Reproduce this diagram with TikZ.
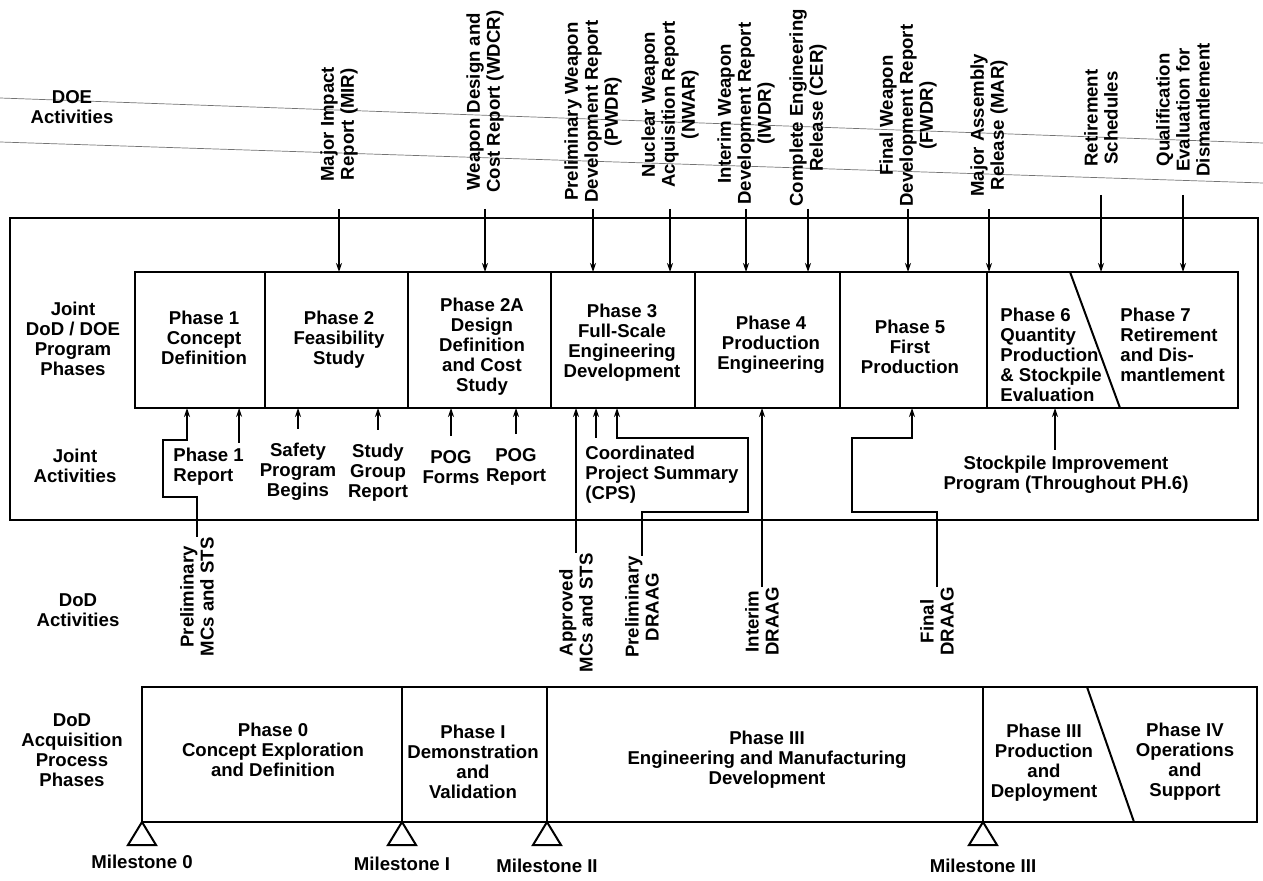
\documentclass[tikz,border=0pt]{standalone}
\usepackage{fontspec}
\setmainfont{Liberation Sans}
\usetikzlibrary{arrows.meta, positioning, calc}

\begin{document}
\begin{tikzpicture}[
    x=0.5pt, y=-0.5pt,
    lbl/.style={font=\fontsize{9.3}{10}\selectfont\bfseries, align=center, inner sep=0pt},
    uplbl/.style={lbl, rotate=90, anchor=west},
    dnlbl/.style={lbl, rotate=90, anchor=east},
    boxline/.style={draw, line width=1.2pt},
    divider/.style={line width=1pt},
    ptr/.style={-{Stealth[length=4.5pt, width=3pt]}, line width=0.8pt},
    mtri/.style={draw, line width=1pt, fill=white},
    crease/.style={line width=0.35pt, black!55},
    >=Stealth
  ]
  \useasboundingbox (0,0) rectangle (1263,881);

  % --- scan creases across the DOE row ---
  \draw[crease] (0,98) -- (1263,143);
  \draw[crease] (0,142) -- (1263,183);

  % --- row labels ---
  \node[lbl] (doeact) at (72,107) {DOE\\Activities};
  \node[lbl] (jointph) at (73,339) {Joint\\DoD / DOE\\Program\\Phases};
  \node[lbl] (jointact) at (75,466) {Joint\\Activities};
  \node[lbl] (dodact) at (78,610) {DoD\\Activities};
  \node[lbl] (dodacq) at (72,750) {DoD\\Acquisition\\Process\\Phases};

  % --- joint frame and program phases ---
  \draw[boxline] (10,218) rectangle (1258,520);
  \draw[boxline] (135,272) rectangle (1238,408);
  \coordinate (phtop) at (0,272);
  \coordinate (phbot) at (0,408);
  \coordinate (tick) at (0,209);
  \coordinate (tickhi) at (0,195);
  \foreach \dx in {265,408,551,695,840,987}
    \draw[divider] (\dx,272) -- (\dx,408);
  \draw[divider] (1070,272) -- (1120,408);

  \node[lbl] (ph1) at (204,338) {Phase 1\\Concept\\Definition};
  \node[lbl] (ph2) at (339,340) {Phase 2\\Feasibility\\Study};
  \node[lbl] (ph2a) at (482,347) {Phase 2A\\Design\\Definition\\and Cost\\Study};
  \node[lbl] (ph3) at (622,343) {Phase 3\\Full-Scale\\Engineering\\Development};
  \node[lbl] (ph4) at (771,345) {Phase 4\\Production\\Engineering};
  \node[lbl] (ph5) at (910,347) {Phase 5\\First\\Production};
  \node[lbl, anchor=west, align=left] (ph6) at (1000,355) {Phase 6\\Quantity\\Production\\\& Stockpile\\Evaluation};
  \node[lbl, anchor=west, align=left] (ph7) at (1120,345) {Phase 7\\Retirement\\and Dis-\\mantlement};

  % --- DOE activities ---
  \node[uplbl] (mir) at (339,182) {Major Impact\\Report (MIR)};
  \node[uplbl] (wdcr) at (485,193) {Weapon Design and\\Cost Report (WDCR)};
  \node[uplbl] (pwdr) at (593,203) {Preliminary Weapon\\Development Report\\(PWDR)};
  \node[uplbl] (nwar) at (670,188) {Nuclear Weapon\\Acquisition Report\\(NWAR)};
  \node[uplbl] (iwdr) at (746,205) {Interim Weapon\\Development Report\\(IWDR)};
  \node[uplbl] (cer) at (808,207) {Complete Engineering\\Release (CER)};
  \node[uplbl] (fwdr) at (908,207) {Final Weapon\\Development Report\\(FWDR)};
  \node[uplbl] (mar) at (989,197) {Major Assembly\\Release (MAR)};
  \node[uplbl] (rsch) at (1101,167) {Retirement\\Schedules};
  \node[uplbl] (qed) at (1183,177) {Qualification\\Evaluation for\\Dismantlement};
  \foreach \n in {mir,wdcr,pwdr,nwar,iwdr,cer,fwdr,mar}
    \draw[ptr] (\n.west |- tick) -- (\n.west |- phtop);
  \draw[ptr] (rsch.west |- tickhi) -- (rsch.west |- phtop);
  \draw[ptr] (qed.west |- tickhi) -- (qed.west |- phtop);

  % --- joint activities ---
  \node[lbl, anchor=west, align=left] (p1rep) at (173,467) {Phase 1\\Report};
  \node[lbl] (safety) at (298,472) {Safety\\Program\\Begins};
  \node[lbl] (sgrep) at (378,473) {Study\\Group\\Report};
  \node[lbl] (pogf) at (451,467) {POG\\Forms};
  \node[lbl] (pogr) at (516,467) {POG\\Report};
  \node[lbl, anchor=west, align=left] (cps) at (585,475) {Coordinated\\Project Summary\\(CPS)};
  \node[lbl] (sip) at (1066,475) {Stockpile Improvement\\Program (Throughout PH.6)};
  \foreach \n in {safety,sgrep,pogf,pogr}
    \draw[ptr] ([yshift=7pt]\n.north) -- (\n.north |- phbot);
  \draw[ptr] ($(p1rep.north east)+(-5,-5)$) coordinate (p1a) -- (p1a |- phbot);
  \draw[ptr] ($(cps.north west)+(11,-8)$) coordinate (cpsa) -- (cpsa |- phbot);
  \draw[ptr] ($(sip.north)+(-11,-6)$) coordinate (sipa) -- (sipa |- phbot);

  % --- DoD activities ---
  \node[dnlbl] (pmc) at (197,537) {Preliminary\\MCs and STS};
  \node[dnlbl] (amc) at (576,553) {Approved\\MCs and STS};
  \node[dnlbl] (pdraag) at (642,556) {Preliminary\\DRAAG};
  \node[dnlbl] (idraag) at (762,587) {Interim\\DRAAG};
  \node[dnlbl] (fdraag) at (937,587) {Final\\DRAAG};
  \draw[ptr] (pmc.east) |- (163,497) |- (187,440) -- (187,440 |- phbot);
  \draw[ptr] (amc.east) -- (amc.east |- phbot);
  \draw[ptr] (pdraag.east) |- (748,512) |- (617,438) -- (617,438 |- phbot);
  \draw[ptr] (idraag.east) -- (idraag.east |- phbot);
  \draw[ptr] (fdraag.east) |- (852,512) |- (912,438) -- (912,438 |- phbot);

  % --- DoD acquisition process phases ---
  \draw[boxline] (142,687) rectangle (1257,822);
  \foreach \dx in {402,547,983}
    \draw[divider] (\dx,687) -- (\dx,822);
  \draw[divider] (1087,687) -- (1134,822);
  \node[lbl] (aq0) at (273,750) {Phase 0\\Concept Exploration\\and Definition};
  \node[lbl] (aq1) at (473,762) {Phase I\\Demonstration\\and\\Validation};
  \node[lbl] (aq3) at (767,760) {Phase III\\Engineering and Manufacturing\\Development};
  \node[lbl] (aq3b) at (1044,763) {Phase III\\Production\\and\\Deployment};
  \node[lbl] (aq4) at (1185,762) {Phase IV\\Operations\\and\\Support};

  % --- milestones ---
  \foreach \mx/\mn in {142/ms0, 402/ms1, 547/ms2, 983/ms3} {
    \draw[mtri] (\mx,822) -- ++(-14,23) -- ++(28,0) -- cycle;
    \coordinate (\mn) at (\mx,845);
  }
  \node[lbl, below=5pt of ms0] (mlbl0) {Milestone 0};
  \node[lbl, below=6pt of ms1] (mlbl1) {Milestone I};
  \node[lbl, below=7pt of ms2] (mlbl2) {Milestone II};
  \node[lbl, below=7pt of ms3] (mlbl3) {Milestone III};

\end{tikzpicture}
\end{document}
